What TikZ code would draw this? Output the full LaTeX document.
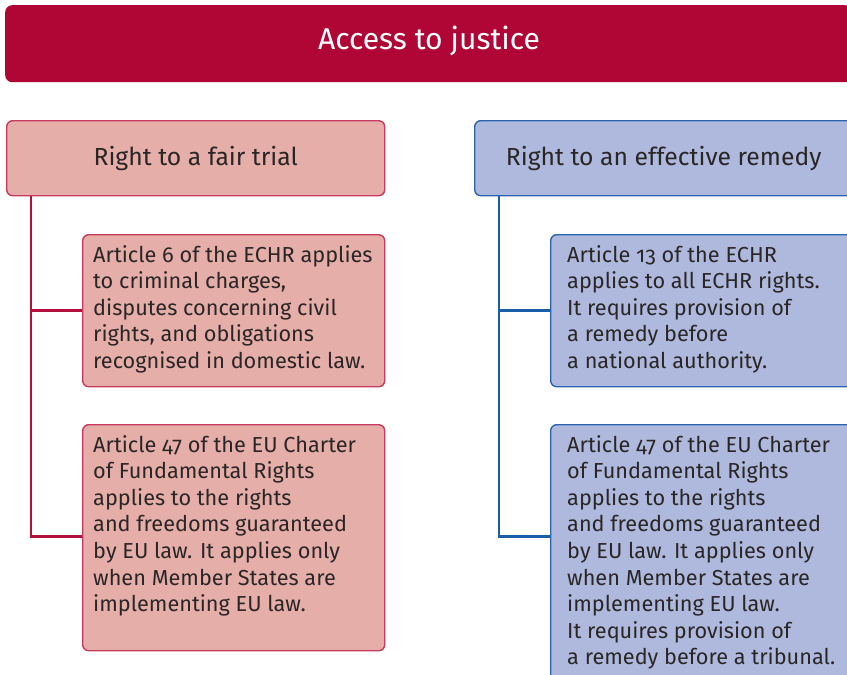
\documentclass[tikz,border=0pt]{standalone}
\usepackage{fontspec}
\setmainfont{Fira Sans}[Numbers=OldStyle]
\definecolor{titlered}{HTML}{B00636}
\definecolor{pinkfill}{HTML}{E5AEA9}
\definecolor{pinkdraw}{HTML}{C73A5C}
\definecolor{redline}{HTML}{B5103D}
\definecolor{bluefill}{HTML}{AEB9DD}
\definecolor{bluedraw}{HTML}{2A64AE}
\definecolor{blueline}{HTML}{1A5DA8}
\definecolor{txtgray}{HTML}{2B2626}
\tikzset{
  titlebar/.style={fill=titlered, rounded corners=7pt, minimum width=847pt, minimum height=77pt, anchor=north west, inner sep=0pt},
  headbox/.style={rounded corners=6pt, line width=1.4pt, minimum width=378pt, minimum height=75pt, anchor=north west, inner sep=0pt, text=txtgray, font=\fontsize{24.7}{29}\selectfont},
  itembox/.style={rounded corners=6pt, line width=1.4pt, minimum width=302pt, anchor=north west, inner sep=0pt},
  itemtext/.style={anchor=north west, align=left, inner sep=0pt, text=txtgray, font=\fontsize{21.7}{26.6}\selectfont},
  redstyle/.style={fill=pinkfill, draw=pinkdraw},
  bluestyle/.style={fill=bluefill, draw=bluedraw},
  conn/.style={line width=2.8pt},
}
\begin{document}
\begin{tikzpicture}[x=1pt,y=-1pt]
\useasboundingbox (0,0) rectangle (847,675);
\clip (0,0) rectangle (847,675);
\node[titlebar] (title) at (5,5) {};
\node[text=white, font=\fontsize{30}{34}\selectfont] (titletext) at (429,41) {Access to justice};

% left column
\node[headbox, redstyle] (hl) at (6,120) {Right to a fair trial};
\node[itembox, redstyle, minimum height=152pt] (bl1) at (82,234) {};
\node[itembox, redstyle, minimum height=226pt] (bl2) at (82,424) {};
\node[itemtext] (tl1) at (93,245) {Article 6 of the ECHR applies\\to criminal charges,\\disputes concerning civil\\rights, and obligations\\recognised in domestic law.};
\node[itemtext] (tl2) at (93,435) {Article 47 of the EU Charter\\of Fundamental Rights\\applies to the rights\\and freedoms guaranteed\\by EU law. It applies only\\when Member States are\\implementing EU law.};
\coordinate (lroot) at ([xshift=25pt]hl.south west);
\draw[conn, redline] (lroot) |- (bl1.west);
\draw[conn, redline] (lroot) |- ([yshift=1pt]bl2.west);

% right column
\node[headbox, bluestyle] (hr) at (474,120) {Right to an effective remedy};
\node[itembox, bluestyle, minimum height=152pt] (br1) at (550,234) {};
\node[itembox, bluestyle, minimum height=280pt] (br2) at (550,424) {};
\node[itemtext] (tr1) at (567,245) {Article 13 of the ECHR\\applies to all ECHR rights.\\It requires provision of\\a remedy before\\a national authority.};
\node[itemtext] (tr2) at (567,435) {Article 47 of the EU Charter\\of Fundamental Rights\\applies to the rights\\and freedoms guaranteed\\by EU law. It applies only\\when Member States are\\implementing EU law.\\It requires provision of\\a remedy before a tribunal.};
\coordinate (rroot) at ([xshift=25pt]hr.south west);
\draw[conn, blueline] (rroot) |- (br1.west);
\draw[conn, blueline] (rroot) |- ([yshift=28pt]br2.west);
\end{tikzpicture}
\end{document}
